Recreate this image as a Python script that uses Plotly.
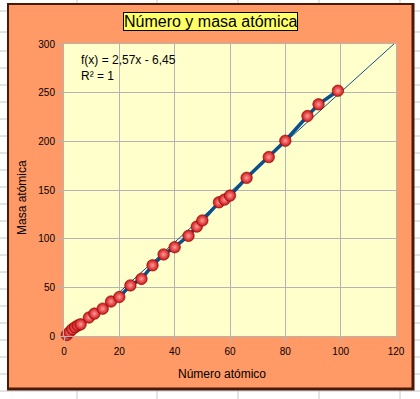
import plotly.graph_objects as go

# ---- data ----
atomic_number = [1, 2, 3, 4, 5, 6, 9, 11, 14, 17, 20, 24, 28, 32, 36, 40, 45, 48, 50,
                 56, 58, 60, 66, 74, 80, 88, 92, 99]
atomic_mass = [1.008, 4.003, 6.94, 9.012, 10.81, 12.01, 19.00, 22.99, 28.09, 35.45, 40.08,
               52.00, 58.69, 72.63, 83.80, 91.22, 102.91, 112.41, 118.71, 137.33, 140.12,
               144.24, 162.50, 183.84, 200.59, 226.0, 238.03, 252.0]
trend_slope = 2.57
trend_intercept = -6.45
trend_x = [0, 120]
trend_y = [trend_slope * v + trend_intercept for v in trend_x]
x_ticks = [0, 20, 40, 60, 80, 100, 120]
y_ticks = [0, 50, 100, 150, 200, 250, 300]

# ---- layout geometry (pixels) ----
W, H = 420, 399
L, R, T, B = 64, 24, 44, 63
PW, PH = W - L - R, H - T - B


def px(x):
    return (x - L) / PW


def py(y):
    return (H - B - y) / PH


FONT = "Liberation Sans, Arial, sans-serif"
BLUE = "#0b4f8c"

fig = go.Figure()

fig.add_trace(go.Scatter(
    x=trend_x, y=trend_y, mode="lines",
    line=dict(color=BLUE, width=1), hoverinfo="skip", showlegend=False,
))
fig.add_trace(go.Scatter(
    x=atomic_number, y=atomic_mass, mode="lines+markers",
    line=dict(color=BLUE, width=3.5),
    marker=dict(size=11.5, color="#cc1414",
                gradient=dict(type="radial", color="#ff9a9a"),
                line=dict(color="#8a0000", width=0.6)),
    showlegend=False, cliponaxis=False,
))

shapes = []
# spreadsheet grid behind the chart
grid_c = "#c8c8c8"
rows = [11, 32, 51] + list(range(68, 400, 17))
for yy in rows:
    shapes.append(dict(type="line", xref="paper", yref="paper", layer="below",
                       x0=px(0), x1=px(W), y0=py(yy), y1=py(yy),
                       line=dict(color=grid_c, width=1)))
for xx in [77, 157, 238, 319, 400]:
    shapes.append(dict(type="line", xref="paper", yref="paper", layer="below",
                       x0=px(xx), x1=px(xx), y0=py(0), y1=py(H),
                       line=dict(color=grid_c, width=1)))
# chart area with dark frame / shadow
shapes.append(dict(type="rect", xref="paper", yref="paper", layer="below",
                   x0=px(7), x1=px(414.5), y0=py(3), y1=py(390.5),
                   fillcolor="#4a1a06", line=dict(width=0)))
shapes.append(dict(type="rect", xref="paper", yref="paper", layer="below",
                   x0=px(9), x1=px(411.5), y0=py(5), y1=py(387.5),
                   fillcolor="#ff9966", line=dict(width=0)))
# plot area
shapes.append(dict(type="rect", xref="paper", yref="paper", layer="below",
                   x0=0, x1=1, y0=0, y1=1,
                   fillcolor="#ffffcc", line=dict(width=0)))

annotations = [
    dict(text="Número y masa atómica", xref="paper", yref="paper",
         x=px(210.5), y=py(21.5), xanchor="center", yanchor="middle",
         showarrow=False, font=dict(family=FONT, size=16, color="#000000"),
         bgcolor="#ffff66", bordercolor="#000000", borderwidth=1, borderpad=0),
    dict(text="f(x) = 2,57x - 6,45<br>R² = 1", xref="paper", yref="paper",
         x=px(79), y=py(51), xanchor="left", yanchor="top", align="left",
         showarrow=False, font=dict(family=FONT, size=12, color="#000000")),
    dict(text="Número atómico", xref="paper", yref="paper",
         x=px(222), y=py(373.5), xanchor="center", yanchor="middle",
         showarrow=False, font=dict(family=FONT, size=12, color="#000000")),
    dict(text="Masa atómica", xref="paper", yref="paper",
         x=px(22), y=py(198), xanchor="center", yanchor="middle", textangle=-90,
         showarrow=False, font=dict(family=FONT, size=12, color="#000000")),
]

axis_common = dict(
    showgrid=True, gridcolor="#b4b4b4", gridwidth=1,
    showline=True, linecolor="#b4b4b4", linewidth=1, mirror=True,
    ticks="outside", ticklen=6, tickcolor="#b4b4b4", tickwidth=1,
    zeroline=False, tickfont=dict(family=FONT, size=10, color="#000000"),
    fixedrange=True,
)

fig.update_layout(
    width=W, height=H,
    margin=dict(l=L, r=R, t=T, b=B, pad=0),
    paper_bgcolor="#ffffff", plot_bgcolor="rgba(0,0,0,0)",
    xaxis=dict(range=[0, 120], tickvals=x_ticks, **axis_common),
    yaxis=dict(range=[0, 300], tickvals=y_ticks, **axis_common),
    shapes=shapes, annotations=annotations,
    font=dict(family=FONT),
)

fig.write_html("out.html", config={"displayModeBar": False},
               post_script="document.body.style.margin='0';document.body.style.overflow='hidden';")
